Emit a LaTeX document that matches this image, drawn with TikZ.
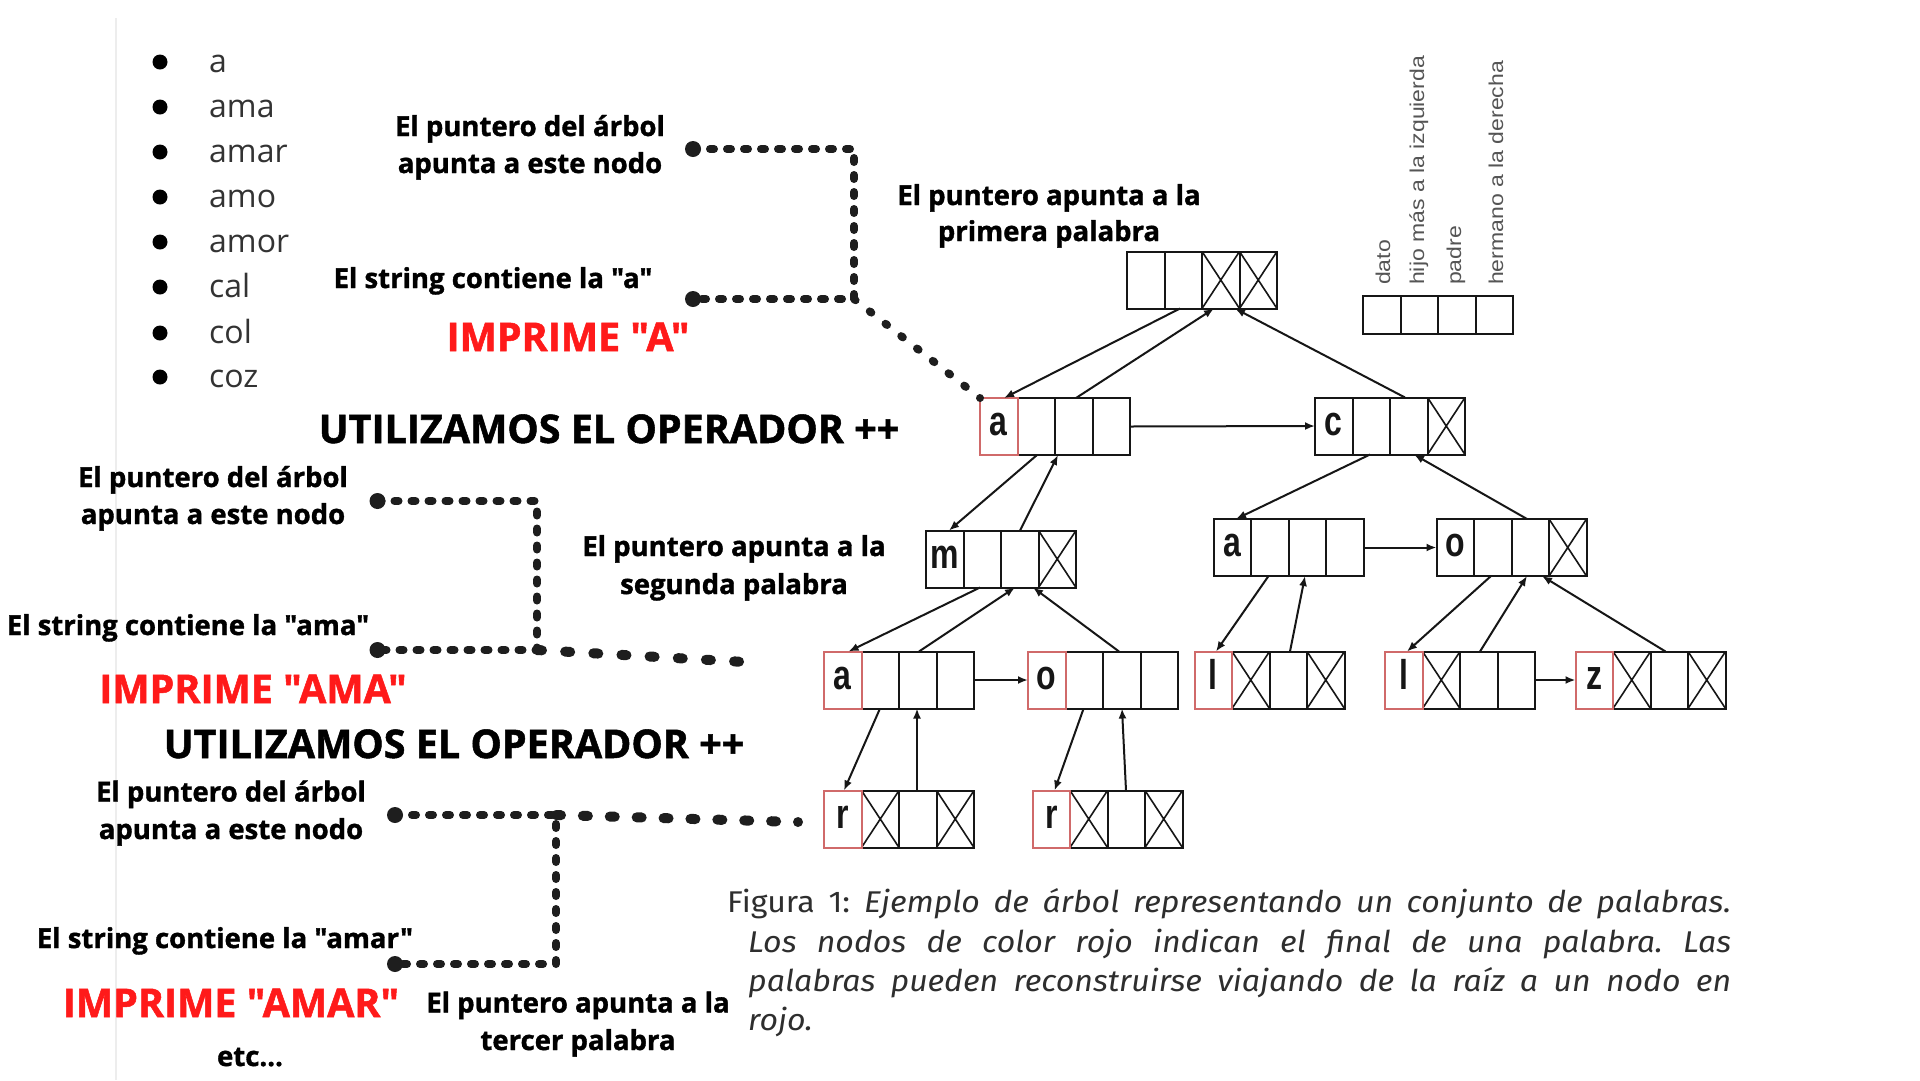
\documentclass[tikz,border=0pt]{standalone}
\usepackage{graphicx}
\usepackage{fontspec}
\setmainfont{Open Sans}[Ligatures=TeXOff, BoldFeatures={FakeBold=1.3}]
\newfontfamily\capfont{Fira Sans}[Ligatures=TeXOff]
\newfontfamily\arialfont{Liberation Sans}
\usetikzlibrary{arrows.meta,calc}
\frenchspacing

\definecolor{ink}{HTML}{161616}
\definecolor{redbox}{HTML}{D06A6A}
\definecolor{imprime}{HTML}{FF1A1A}
\definecolor{legendgray}{HTML}{555555}
\definecolor{listgray}{HTML}{333333}
\definecolor{capgray}{HTML}{2E2E2E}
\definecolor{dotink}{HTML}{1E1E1E}

\tikzset{
  recbox/.style={draw=ink, line width=2pt, minimum width=150pt, minimum height=57pt, inner sep=0pt, outer sep=0pt},
  cellline/.style={draw=ink, line width=2pt},
  crossline/.style={draw=ink, line width=1.6pt},
  ptr/.style={draw=ink, line width=2pt, -{Latex[length=10pt,width=8pt]}},
  letterstyle/.style={font=\arialfont\bfseries\fontsize{32}{32}\selectfont, anchor=base, inner sep=0pt, text=ink},
  note/.style={font=\fontsize{27.5}{30}\selectfont\bfseries, anchor=base, inner sep=0pt, text=black},
  bigred/.style={font=\fontsize{39.5}{44}\selectfont\bfseries, anchor=base, inner sep=0pt, text=imprime},
  bigblack/.style={font=\fontsize{39.5}{44}\selectfont\bfseries, anchor=base, inner sep=0pt, text=black},
  listitem/.style={font=\fontsize{32}{34}\selectfont, anchor=base west, inner sep=0pt, text=listgray},
  bulletdot/.style={circle, fill=black, minimum size=15pt, inner sep=0pt},
  legendlabel/.style={font=\arialfont\fontsize{20}{20}\selectfont, rotate=90, anchor=base west, inner sep=0pt, text=legendgray},
  capline/.style={font=\capfont\fontsize{30}{32}\selectfont, anchor=base west, inner sep=0pt, text=capgray},
  dotline/.style={draw=dotink, line width=8pt, line cap=round, dash pattern=on 4pt off 13pt},
  diagdots/.style={draw=dotink, line width=8pt, line cap=round, dash pattern=on 2pt off 18.03pt},
  bigdotline/.style={draw=dotink, line width=10pt, line cap=round, dash pattern=on 5pt off 23pt},
  enddot/.style={circle, fill=dotink, minimum size=16pt, inner sep=0pt},
}

% record node: name, cx, cy, letter, red flag, crossed cells
\newcommand{\recnode}[6]{%
  \node[recbox] (#1) at (#2,#3) {};
  \foreach \k in {1,2,3}{\draw[cellline] ($(#1.north west)+(\k*37.5,0)$) -- ($(#1.south west)+(\k*37.5,0)$);}
  \foreach \k in {#6}{\ifnum\k>0
    \draw[crossline] ($(#1.north west)+(\k*37.5-37.5,0)$) -- ($(#1.south west)+(\k*37.5,0)$)
      ($(#1.south west)+(\k*37.5-37.5,0)$) -- ($(#1.north west)+(\k*37.5,0)$);\fi}
  \ifnum#5=1 \draw[draw=redbox,line width=2pt] (#1.north west) rectangle ($(#1.south west)+(37.5,0)$);\fi
  \node[letterstyle] at ($(#1.center)+(-56.25,9)$) {\scalebox{1}[1.3]{#4}};
}

\begin{document}
\begin{tikzpicture}[x=1pt,y=-1pt]
\fill[white] (0,0) rectangle (1920,1080);
\useasboundingbox (0,0) rectangle (1920,1080);

% faint edge line
\draw[black!7, line width=1.5pt] (116,18) -- (116,1080);

% word list
\foreach \w/\b [count=\i] in {a/72, ama/117, amar/162, amo/207, amor/252, cal/297, col/343, coz/387}{
  \node[bulletdot] (bul\i) at (160,\b-10) {};
  \node[listitem] (item\i) at (209,\b) {\w};
}

% records
\recnode{root}{1202}{280}{}{0}{3,4}
\recnode{a1}{1055}{426.5}{a}{1}{0}
\recnode{c}{1390}{426}{c}{0}{4}
\recnode{m}{1001}{559}{m}{0}{4}
\recnode{a2}{1288.5}{547.5}{a}{0}{0}
\recnode{o2}{1511.5}{547.5}{o}{0}{4}
\recnode{a3}{899}{680}{a}{1}{0}
\recnode{o3}{1103}{680}{o}{1}{0}
\recnode{l1}{1269.5}{680}{l}{1}{2,4}
\recnode{l2}{1460}{680}{l}{1}{2}
\recnode{z}{1650.5}{680}{z}{1}{2,4}
\recnode{r1}{899}{819}{r}{1}{2,4}
\recnode{r2}{1107.5}{819}{r}{1}{2,4}

% legend
\node[recbox, minimum height=38pt] (leg) at (1438,315) {};
\foreach \k in {1,2,3}{\draw[cellline] ($(leg.north west)+(\k*37.5,0)$) -- ($(leg.south west)+(\k*37.5,0)$);}
\node[legendlabel] (lg1) at (1390,285) {\scalebox{1.15}[1]{dato}};
\node[legendlabel] (lg2) at (1424,285) {\scalebox{1.15}[1]{hijo más a la izquierda}};
\node[legendlabel] (lg3) at (1461,285) {\scalebox{1.15}[1]{padre}};
\node[legendlabel] (lg4) at (1503,285) {\scalebox{1.15}[1]{hermano a la derecha}};

% pointers
\draw[ptr] ($(root.south west)+(53,0)$) -- ($(a1.north west)+(24,0)$);
\draw[ptr] ($(a1.north west)+(96,0)$) -- ($(root.south west)+(87,0)$);
\draw[ptr] ($(c.north west)+(90,0)$) -- ($(root.south west)+(108,0)$);
\draw[ptr] (a1.east) -- (c.west);
\draw[ptr] ($(a1.south west)+(57,0)$) -- ($(m.north west)+(23,0)$);
\draw[ptr] ($(m.north west)+(94,0)$) -- ($(a1.south west)+(78,0)$);
\draw[ptr] ($(c.south west)+(55,0)$) -- ($(a2.north west)+(22.5,0)$);
\draw[ptr] ($(o2.north west)+(90.5,0)$) -- ($(c.south west)+(99,0)$);
\draw[ptr] (a2.east) -- (o2.west);
\draw[ptr] ($(m.south west)+(54,0)$) -- ($(a3.north west)+(24.5,0)$);
\draw[ptr] ($(a3.north west)+(95,0)$) -- ($(m.south west)+(89,0)$);
\draw[ptr] ($(o3.north west)+(91,0)$) -- ($(m.south west)+(107,0)$);
\draw[ptr] (a3.east) -- (o3.west);
\draw[ptr] ($(a3.south west)+(56,0)$) -- ($(r1.north west)+(20,0)$);
\draw[ptr] ($(r1.north west)+(93,0)$) -- ($(a3.south west)+(93,0)$);
\draw[ptr] ($(o3.south west)+(55.6,0)$) -- ($(r2.north west)+(22,0)$);
\draw[ptr] ($(r2.north west)+(93.5,0)$) -- ($(o3.south west)+(94,0)$);
\draw[ptr] ($(a2.south west)+(55,0)$) -- ($(l1.north west)+(21.5,0)$);
\draw[ptr] ($(l1.north west)+(95.5,0)$) -- ($(a2.south west)+(91.5,0)$);
\draw[ptr] ($(o2.south west)+(54.5,0)$) -- ($(l2.north west)+(22,0)$);
\draw[ptr] ($(l2.north west)+(95,0)$) -- ($(o2.south west)+(90.5,0)$);
\draw[ptr] ($(z.north west)+(90,0)$) -- ($(o2.south west)+(105.5,0)$);
\draw[ptr] (l2.east) -- (z.west);

% annotation block 1
\coordinate (k1) at (854,149);
\coordinate (k2) at (854,299);
\draw[dotline] (693,149) -- (k1) -- (k2) -- (693,299);
\draw[diagdots] (k2) -- (a1.north west);
\node[enddot] (d1) at (693,149) {};
\node[enddot] (d2) at (693,299) {};
\node[note] (t1a) at (530,136) {El puntero del árbol};
\node[note] (t1b) at (530,173) {apunta a este nodo};
\node[note] (t1c) at (493,288) {El string contiene la "a"};
\node[bigred] (r1t) at (568,351) {IMPRIME "A"};
\node[bigblack] (u1) at (609,443) {UTILIZAMOS EL OPERADOR ++};
\node[note] (p1a) at (1049,205) {El puntero apunta a la};
\node[note] (p1b) at (1049,241) {primera palabra};

% annotation block 2
\coordinate (k3) at (537,501);
\coordinate (k4) at (537,650);
\coordinate (e2) at (762,663);
\draw[dotline] (377.5,501) -- (k3) -- (k4) -- (377.5,650);
\draw[bigdotline, dash pattern=on 5pt off 23.2pt] (k4) -- (e2);
\node[enddot] (d3) at (377.5,501) {};
\node[enddot] (d4) at (377.5,650) {};
\node[note] (t2a) at (213,487) {El puntero del árbol};
\node[note] (t2b) at (213,524) {apunta a este nodo};
\node[note] (t2c) at (188,635) {El string contiene la "ama"};
\node[bigred] (r2t) at (253,703) {IMPRIME "AMA"};
\node[bigblack] (u2) at (454,758) {UTILIZAMOS EL OPERADOR ++};
\node[note] (p2a) at (734,556) {El puntero apunta a la};
\node[note] (p2b) at (734,594) {segunda palabra};

% annotation block 3
\coordinate (k5) at (556,815);
\coordinate (k6) at (556,964);
\coordinate (e3) at (798,822);
\draw[dotline] (395,815) -- (k5) -- (k6) -- (395,964);
\draw[bigdotline, dash pattern=on 5pt off 21.9pt] (k5) -- (e3);
\node[enddot] (d5) at (395,815) {};
\node[enddot] (d6) at (395,964) {};
\node[note] (t3a) at (231,801.5) {El puntero del árbol};
\node[note] (t3b) at (231,839) {apunta a este nodo};
\node[note] (t3c) at (225,948) {El string contiene la "amar"};
\node[bigred] (r3t) at (231,1017) {IMPRIME "AMAR"};
\node[note] (p3a) at (578,1012.5) {El puntero apunta a la};
\node[note] (p3b) at (578,1050) {tercer palabra};
\node[note] (etc) at (250,1066) {etc...};

% caption
\node[capline] (cap1) at (727,912) {\scalebox{1.07}[1]{\makebox[938.3pt][s]{Figura 1: \textit{Ejemplo de árbol representando un conjunto de palabras.}}}};
\node[capline] (cap2) at (748,952) {\scalebox{1.07}[1]{\makebox[918.7pt][s]{\textit{Los nodos de color rojo indican el final de una palabra. Las}}}};
\node[capline] (cap3) at (748,991) {\scalebox{1.07}[1]{\makebox[918.7pt][s]{\textit{palabras pueden reconstruirse viajando de la raíz a un nodo en}}}};
\node[capline] (cap4) at (748,1030) {\scalebox{1.07}[1]{\textit{rojo.}}};
\end{tikzpicture}
\end{document}
